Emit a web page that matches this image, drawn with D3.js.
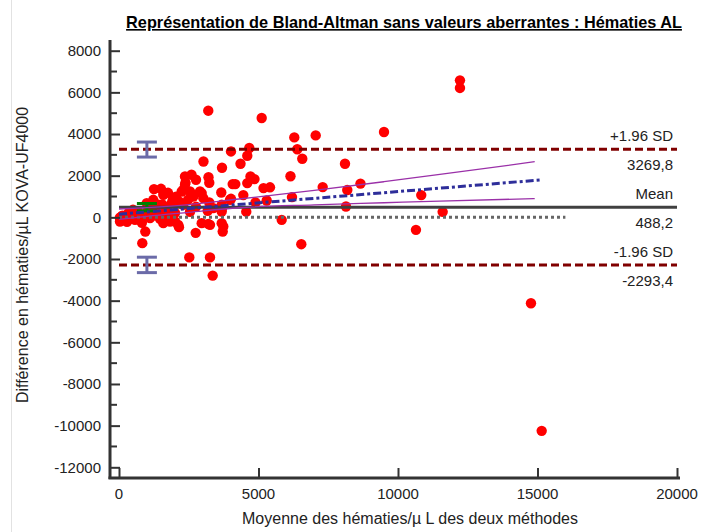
<!DOCTYPE html>
<html>
<head>
<meta charset="utf-8">
<script src="https://cdn.jsdelivr.net/npm/d3@7"></script>
<style>
  body { margin: 0; background: #fff; }
  svg { display: block; font-family: "Liberation Sans", Arial, sans-serif; }
</style>
</head>
<body>
<div id="chart"></div>
<script>
const width = 701;
const height = 532;

// Moyenne des deux méthodes (x) et différence (y) pour chaque échantillon
const meanVals = [
  3200, 5114, 7050, 9498, 6283, 6390, 6569, 8100, 6146, 3028,
  4014, 4670, 4598, 4355, 3692, 2598, 2760, 3208, 3236, 2383,
  4713, 4856, 4598, 4075, 4168, 5179, 5412, 7301, 8182, 8655,
  1254, 2305, 4455, 3666, 2964, 6200, 5294, 4892, 4014, 8136,
  4562, 3692, 3179, 5831, 6534, 2964, 3200, 3681, 3717, 2749,
  943, 835, 2520, 3261, 3358, 2125, 1588, 10834, 10644, 11601,
  12221, 12221, 14766, 15150,
  2545, 2903, 3021, 1925, 2663, 2305, 3236, 3681, 3978, 3738,
  1828, 1588, 2365, 2365, 2247, 1229, 333, 97, 993, 1409,
  1889, 3380, 3681, 215, 573, 1111, 2007, 2150, 3261, 36,
  394, 753, 1050,
  30, 287, 681, 1362, 1649, 1469, 932, 502, 1183, 1720,
  2007, 2545, 2760, 2473, 1756, 1505, 2043,
  120, 450, 820, 1250, 1800, 1550, 2150
];
const diffVals = [
  5120, 4770, 3933, 4096, 3837, 3269, 2813, 2572, 1971, 2683,
  3164, 3327, 2957, 2572, 2380, 2043, 1803, 1923, 1659, 1659,
  1962, 1837, 1644, 1596, 1596, 1404, 1442, 1452, 1313, 1620,
  1356, 1322, 1067, 1192, 1164, 971, 808, 712, 889, 519,
  274, 442, 313, -120, -1289, -279, -313, -279, -683, -745,
  -683, -1240, -1923, -1923, -2798, -361, -279, 1067, -601, 264,
  6577, 6212, -4125, -10251,
  1240, 1240, 923, 841, 1000, 601, 712, 601, 841, -442,
  -202, 1082, 1962, 1563, 1240, 841, 202, 38, 683, 601,
  683, 442, 279, -38, -120, -38, -202, -471, -361, -202,
  120, 120, 361,
  -20, -216, 264, 168, 264, -72, 168, 361, 505, 457,
  216, 264, 505, 841, 1178, 1370, 986,
  80, -60, -260, 100, 40, 620, 760
];

// Limites de concordance : +1.96 SD, moyenne, -1.96 SD
const limitVals = [3269.8, 488.2, -2293.4];
const limitNames = ["+1.96 SD", "Mean", "-1.96 SD"];

// Intervalles de confiance des limites (à x = 1000)
const ciX = 1000;
const ciUpper = [2894, 3615];
const ciMean = [310, 665];
const ciLower = [-2654, -1913];

// Droite de régression et son intervalle de confiance
const regX = [0, 15150];
const regY = [150, 1800];
const bandX = [0, 1000, 2500, 4300, 7000, 9500, 11500, 14900];
const bandUpper = [400, 470, 610, 880, 1290, 1710, 2060, 2670];
const bandLower = [-100, 50, 240, 460, 600, 700, 780, 900];

const xTicks = [0, 5000, 10000, 15000, 20000];
const yTicks = [-12000, -10000, -8000, -6000, -4000, -2000, 0, 2000, 4000, 6000, 8000];
const yMinor = d3.range(-12000, 8001, 1000);

const x = d3.scaleLinear().domain([0, 20000]).range([119, 677]);
const y = d3.scaleLinear().domain([-12000, 8000]).range([467.3, 50.7]);

const fmt = v => String(v).replace(".", ",");

const svg = d3.select("#chart").append("svg")
  .attr("width", width)
  .attr("height", height);

svg.append("rect").attr("width", width).attr("height", height).attr("fill", "#fff");
svg.append("line").attr("x1", 11.5).attr("x2", 11.5).attr("y1", 0).attr("y2", height)
  .attr("stroke", "#e2e2e2");

// Title
svg.append("text")
  .attr("x", 404).attr("y", 28)
  .attr("text-anchor", "middle")
  .attr("font-size", 16.3).attr("font-weight", "bold")
  .style("text-decoration", "underline")
  .text("Représentation de Bland-Altman sans valeurs aberrantes : Hématies AL");

// Points
svg.append("g").selectAll("circle")
  .data(meanVals.map((m, i) => [m, diffVals[i]]))
  .join("circle")
  .attr("cx", d => x(d[0]))
  .attr("cy", d => y(d[1]))
  .attr("r", 5.2)
  .attr("fill", "#ff0000");

// Zero line (dotted)
svg.append("line")
  .attr("x1", x(0)).attr("x2", x(16000))
  .attr("y1", y(0)).attr("y2", y(0))
  .attr("stroke", "#666").attr("stroke-width", 3)
  .attr("stroke-dasharray", "3,3");

// Mean line
svg.append("line")
  .attr("x1", x(0)).attr("x2", x(20000))
  .attr("y1", y(limitVals[1])).attr("y2", y(limitVals[1]))
  .attr("stroke", "#404040").attr("stroke-width", 3);

// +/- 1.96 SD lines
[limitVals[0], limitVals[2]].forEach(v => {
  svg.append("line")
    .attr("x1", x(0)).attr("x2", x(20000))
    .attr("y1", y(v)).attr("y2", y(v))
    .attr("stroke", "#800000").attr("stroke-width", 3)
    .attr("stroke-dasharray", "8,4");
});

// Error bars
function errorBar(lo, hi, color) {
  const g = svg.append("g").attr("stroke", color).attr("stroke-width", 3);
  g.append("line").attr("x1", x(ciX)).attr("x2", x(ciX)).attr("y1", y(lo)).attr("y2", y(hi));
  [lo, hi].forEach(v => {
    g.append("line").attr("x1", x(ciX) - 10).attr("x2", x(ciX) + 10)
      .attr("y1", y(v)).attr("y2", y(v));
  });
}
errorBar(ciUpper[0], ciUpper[1], "#6b6ba8");
errorBar(ciLower[0], ciLower[1], "#6b6ba8");
errorBar(ciMean[0], ciMean[1], "#008000");

// Regression confidence band
const bandLine = d3.line().curve(d3.curveMonotoneX).x(d => x(d[0])).y(d => y(d[1]));
[bandUpper, bandLower].forEach(arr => {
  svg.append("path")
    .attr("d", bandLine(bandX.map((b, i) => [b, arr[i]])))
    .attr("fill", "none").attr("stroke", "#9a30a8").attr("stroke-width", 1.3);
});

// Regression line
svg.append("path")
  .attr("d", d3.line().x(d => x(d[0])).y(d => y(d[1]))(regX.map((r, i) => [r, regY[i]])))
  .attr("fill", "none").attr("stroke", "#2e2e9a").attr("stroke-width", 3)
  .attr("stroke-dasharray", "8,3,3,3");

// Limit labels
limitVals.forEach((v, i) => {
  svg.append("text").attr("x", 673).attr("y", y(v) - 8)
    .attr("text-anchor", "end").attr("font-size", 15).attr("fill", "#222")
    .text(limitNames[i]);
  svg.append("text").attr("x", 673).attr("y", y(v) + 21)
    .attr("text-anchor", "end").attr("font-size", 15).attr("fill", "#222")
    .text(fmt(v));
});

// Axes
const axisColor = "#333";
svg.append("line").attr("x1", 110).attr("x2", 110).attr("y1", 40).attr("y2", 479)
  .attr("stroke", axisColor).attr("stroke-width", 3);
svg.append("line").attr("x1", 108.5).attr("x2", 680).attr("y1", 478).attr("y2", 478)
  .attr("stroke", axisColor).attr("stroke-width", 3);

const yAxis = svg.append("g").attr("transform", "translate(110,0)")
  .call(d3.axisRight(y).tickValues(yTicks).tickSize(10).tickFormat(""));
yAxis.select(".domain").remove();
yAxis.selectAll(".tick line").attr("stroke", axisColor).attr("stroke-width", 2);

svg.append("g").selectAll("line")
  .data(yMinor.filter(v => !yTicks.includes(v)))
  .join("line")
  .attr("x1", 110).attr("x2", 117)
  .attr("y1", d => y(d)).attr("y2", d => y(d))
  .attr("stroke", axisColor).attr("stroke-width", 2);

svg.append("g").selectAll("text")
  .data(yTicks)
  .join("text")
  .attr("x", 101).attr("y", d => y(d))
  .attr("dy", "0.35em")
  .attr("text-anchor", "end").attr("font-size", 15).attr("fill", "#222")
  .text(d => d);

const xAxis = svg.append("g").attr("transform", "translate(0,478)")
  .call(d3.axisTop(x).tickValues(xTicks).tickSize(10).tickFormat(""));
xAxis.select(".domain").remove();
xAxis.selectAll(".tick line").attr("stroke", axisColor).attr("stroke-width", 2);

svg.append("g").selectAll("text")
  .data(xTicks)
  .join("text")
  .attr("x", d => x(d)).attr("y", 499)
  .attr("text-anchor", "middle").attr("font-size", 15).attr("fill", "#222")
  .text(d => d);

// Axis titles
svg.append("text")
  .attr("x", 410).attr("y", 524)
  .attr("text-anchor", "middle").attr("font-size", 16).attr("fill", "#222")
  .text("Moyenne des hématies/µ L des deux méthodes");

svg.append("text")
  .attr("transform", "translate(28,255) rotate(-90)")
  .attr("text-anchor", "middle").attr("font-size", 16).attr("fill", "#222")
  .text("Différence en hématies/µL KOVA-UF4000");
</script>
</body>
</html>
